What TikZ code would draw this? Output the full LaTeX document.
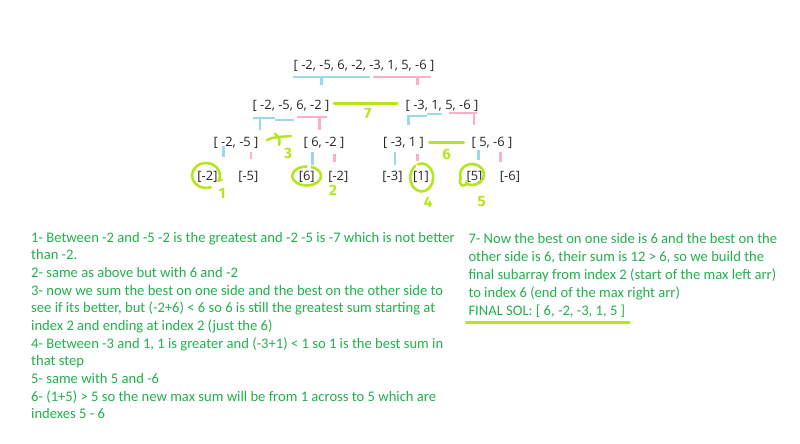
\documentclass[tikz,border=0pt]{standalone}
\usepackage{fontspec}
\setmainfont{Carlito}
\newfontfamily\treefont{Open Sans}
\newfontfamily\handfont{Fira Sans}
\definecolor{txtgreen}{HTML}{22B14C}
\definecolor{lime}{HTML}{B5E61D}
\definecolor{lblue}{HTML}{99D9EA}
\definecolor{lpink}{HTML}{FFAEC9}
\begin{document}
\begin{tikzpicture}[x=1pt,y=-1pt,
  arr/.style={inner sep=0pt,anchor=base,font=\treefont\fontsize{12.9}{15}\selectfont,text=black!85},
  note/.style={inner sep=0pt,anchor=base west,font=\fontsize{14.6}{17}\selectfont,text=txtgreen},
  hand/.style={inner sep=0pt,font=\handfont\bfseries\fontsize{15}{15}\selectfont,text=lime},
  bl/.style={draw=lblue,line width=2.6pt},
  pk/.style={draw=lpink,line width=2.6pt},
  lm/.style={draw=lime,line width=3pt,line cap=round,line join=round},
  ring/.style={draw=lime,line width=2.6pt,line cap=round,line join=round}]
\useasboundingbox (0,0) rectangle (800,444);
\fill[white] (0,0) rectangle (800,444);
% level 1
\node[arr] (a) at (364,70) {[ -2, -5, 6, -2, -3, 1, 5, -6 ]};
% level 2
\node[arr] (l) at (291,109) {[ -2, -5, 6, -2 ]};
\node[arr] (r) at (442,109) {[ -3, 1, 5, -6 ]};
% level 3
\node[arr] (ll) at (236,146.7) {[ -2, -5 ]};
\node[arr] (lr) at (324,146.7) {[ 6, -2 ]};
\node[arr] (rl) at (403.5,146.7) {[ -3, 1 ]};
\node[arr] (rr) at (492,146.7) {[ 5, -6 ]};
% leaves
\node[arr] (p1) at (207.5,180) {[-2]};
\node[arr] (p2) at (248.3,180) {[-5]};
\node[arr] (p3) at (306.7,180) {[6]};
\node[arr] (p4) at (338.3,180) {[-2]};
\node[arr] (p5) at (392.5,180) {[-3]};
\node[arr] (p6) at (421,180) {[1]};
\node[arr] (p7) at (474.5,180) {[5]};
\node[arr] (p8) at (510,180) {[-6]};
% level 1 splits
\draw[bl] (292.7,77) -- (370,77) (321.7,77) -- (321.7,85);
\draw[pk] (372.7,77) -- (430.7,77) (417.3,77) -- (417.3,85);
% level 2 splits
\draw[bl] (252.7,118) -- (275,118) (275,120) -- (294,120) (260,118) -- (260,130);
\draw[pk] (296.7,117) -- (326.7,117) (319.3,117) -- (319.3,130);
\draw[bl] (408.7,125) -- (408.7,116) -- (427,116) (427,114) -- (441.7,114);
\draw[pk] (449,113) -- (476.7,113) (474,113) -- (474,125);
% level 3 ticks
\draw[bl] (223.3,145.5) -- (223.3,157);
\draw[pk] (251,152) -- (251,159.3);
\draw[bl] (312.3,152) -- (312.3,165);
\draw[pk] (334.3,154) -- (334.3,162);
\draw[bl] (395,152) -- (395,165);
\draw[pk] (417.3,154) -- (417.3,160.7);
\draw[bl] (478.3,150) -- (478.3,160);
\draw[pk] (500.7,152) -- (500.7,162.3);
% combine lines
\draw[lm] (334,103.5) -- (397,103.5);
\draw[lm] (429.5,142.5) -- (463.5,142.5);
% circles
\draw[ring] (206,175.5) ++(70:14 and 12.5) arc[start angle=70,end angle=385,x radius=14,y radius=12.5] -- ++(3,-1);
\draw[ring] (306.7,176) ++(-70:14.5 and 9.5) arc[start angle=-70,end angle=270,x radius=14.5,y radius=9.5];
\draw[ring] (421.7,177.5) ++(-110:11.5 and 14) arc[start angle=-110,end angle=235,x radius=11.5,y radius=14];
\draw[ring] (472,174.5) ++(115:12 and 10.5) arc[start angle=115,end angle=-200,x radius=12,y radius=10.5] .. controls (457,186) and (466,189) .. (467,181);
% hand numbers
\node[hand] (h1) at (222,193) {1};
\node[hand] (h2) at (333,190) {2};
\node[hand] (h3) at (288,153) {3};
\node[hand] (h4) at (428,202) {4};
\node[hand] (h5) at (481.7,202) {5};
\node[hand] (h6) at (446.7,154) {6};
\node[hand] (h7) at (368,113.5) {7};
\draw[lm,line width=2.4pt] (267,140) .. controls (272,137) and (280,137) .. (291,136) (275,134) .. controls (280,137) and (280,141) .. (279,145);
% notes left
\node[note] (n1) at (31,242.3) {1- Between -2 and -5 -2 is the greatest and -2 -5 is -7 which is not better};
\node[note] (n2) at (31,259.9) {than -2.};
\node[note] (n3) at (31,277.6) {2- same as above but with 6 and -2};
\node[note] (n4) at (31,295.2) {3- now we sum the best on one side and the best on the other side to};
\node[note] (n5) at (31,312.9) {see if its better, but (-2+6) < 6 so 6 is still the greatest sum starting at};
\node[note] (n6) at (31,330.5) {index 2 and ending at index 2 (just the 6)};
\node[note] (n7) at (31,348.1) {4- Between -3 and 1, 1 is greater and (-3+1) < 1 so 1 is the best sum in};
\node[note] (n8) at (31,365.8) {that step};
\node[note] (n9) at (31,383.4) {5- same with 5 and -6};
\node[note] (n10) at (31,401.1) {6- (1+5) > 5 so the new max sum will be from 1 across to 5 which are};
\node[note] (n11) at (31,418.7) {indexes 5 - 6};
% notes right
\node[note] (m1) at (468.3,243.3) {7- Now the best on one side is 6 and the best on the};
\node[note] (m2) at (468.3,261) {other side is 6, their sum is 12 > 6, so we build the};
\node[note] (m3) at (468.3,279.3) {final subarray from index 2 (start of the max left arr)};
\node[note] (m4) at (468.3,297) {to index 6 (end of the max right arr)};
\node[note] (m5) at (468.3,315.7) {FINAL SOL: [ 6, -2, -3, 1, 5 ]};
\draw[lm] (466,322.7) -- (629,322.7);
\end{tikzpicture}
\end{document}
